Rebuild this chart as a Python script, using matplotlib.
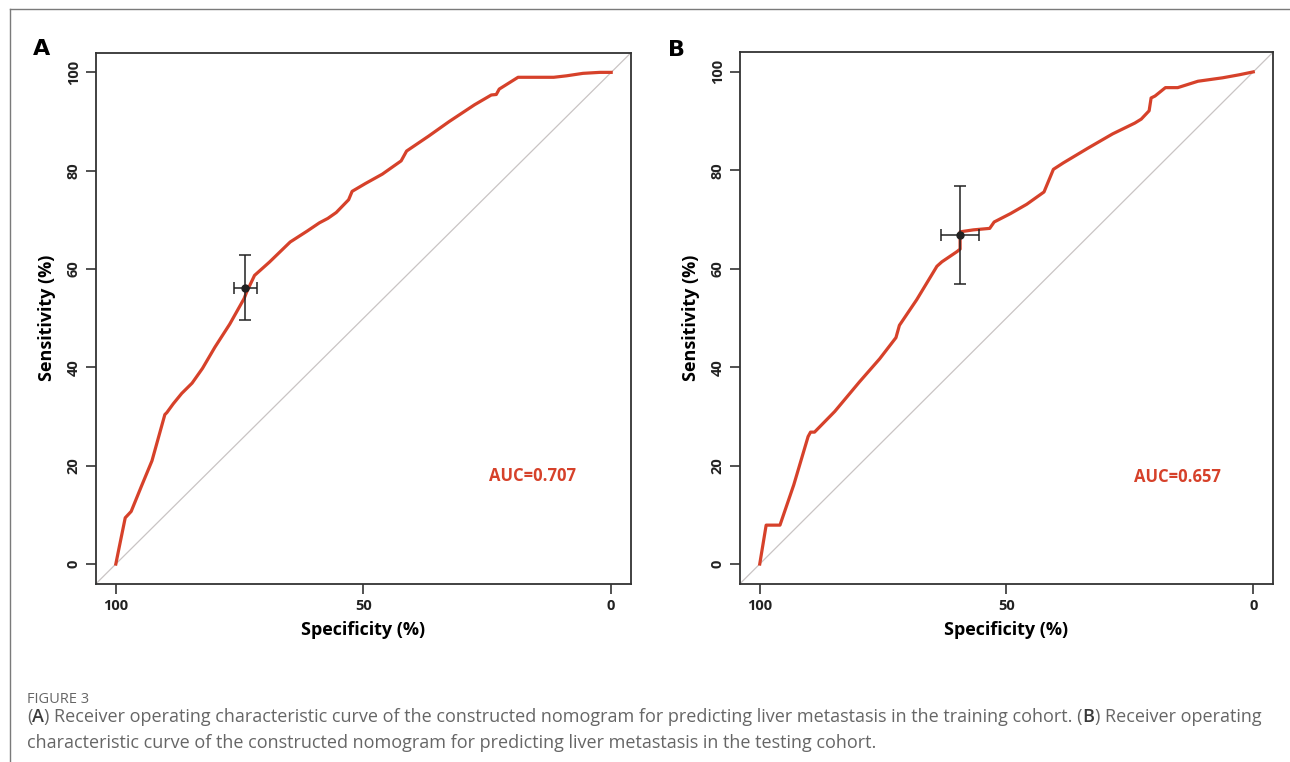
import numpy as np
import matplotlib.pyplot as plt
from matplotlib.lines import Line2D

plt.rcParams['font.family'] = ['Open Sans', 'DejaVu Sans']

# ROC curve A (training cohort): specificity (%), sensitivity (%)
spec_a = [100, 99.4, 98.1, 96.9, 94.8, 92.7, 90.1, 89.7, 88.4, 86.7, 84.6, 82.5, 80.0,
          77.0, 74.1, 73.6, 72.0, 69.0, 64.8, 61.4, 58.9, 57.2, 55.5, 53.0, 52.3, 49.6,
          46.2, 42.4, 41.3, 36.9, 32.7, 27.6, 24.2, 23.2, 22.6, 18.8, 11.6, 9.0, 5.7, 2.3, 0]
sens_a = [0, 3.0, 9.4, 10.7, 15.9, 21.0, 30.4, 30.8, 32.6, 34.7, 36.8, 39.8, 44.1,
          48.8, 54.0, 55.3, 58.7, 61.4, 65.5, 67.7, 69.4, 70.3, 71.5, 74.1, 75.8, 77.4,
          79.3, 82.0, 84.0, 87.0, 90.0, 93.4, 95.4, 95.5, 96.6, 99.0, 99.0, 99.3, 99.8, 100, 100]

# ROC curve B (testing cohort)
spec_b = [100, 98.7, 95.9, 93.1, 90.2, 89.7, 88.9, 84.8, 79.8, 75.7, 72.4, 71.7, 68.2,
          64.1, 63.1, 60.0, 59.4, 59.4, 56.7, 53.4, 52.5, 49.2, 45.9, 42.4, 40.5, 38.5,
          33.5, 28.5, 24.0, 22.7, 21.1, 20.7, 19.9, 17.8, 15.3, 11.2, 6.2, 2.9, 0]
sens_b = [0, 7.9, 7.9, 16.1, 25.9, 26.8, 26.8, 31.0, 37.0, 41.7, 46.0, 48.5, 53.7,
          60.5, 61.4, 63.5, 64.0, 67.5, 67.9, 68.2, 69.5, 71.2, 73.1, 75.6, 80.2, 81.5,
          84.5, 87.4, 89.6, 90.4, 92.1, 94.7, 95.1, 96.8, 96.8, 98.1, 98.8, 99.4, 100]

# best threshold point with CI: (spec, spec_lo, spec_hi, sens, sens_lo, sens_hi)
ci_a = (73.9, 71.6, 76.3, 56.2, 49.7, 62.9)
ci_b = (59.4, 55.6, 63.3, 66.9, 56.9, 76.8)

auc_labels = ["AUC=0.707", "AUC=0.657"]
auc_pos = [(15.8, 17.9), (15.3, 17.7)]
panel_labels = ["A", "B"]

RED = '#D6412A'

fig = plt.figure(figsize=(12.9, 7.62), dpi=100)

axes_rects = [(96 / 1290, 178.3 / 762, 535 / 1290, 531 / 762),
              (740 / 1290, 178.3 / 762, 533 / 1290, 531.5 / 762)]
curves = [(spec_a, sens_a), (spec_b, sens_b)]
cis = [ci_a, ci_b]
label_pos = [(42, 49), (676, 50)]

for i in range(2):
    ax = fig.add_axes(axes_rects[i])
    sx, sy = curves[i]
    ax.axline((100, 0), (0, 100), color='#C9C4C4', lw=0.9, zorder=1)
    ax.plot(sx, sy, color=RED, lw=2.3, zorder=2, solid_joinstyle='round')
    s, slo, shi, se, selo, sehi = cis[i]
    ax.errorbar([s], [se], xerr=[[shi - s], [s - slo]], yerr=[[se - selo], [sehi - se]],
                fmt='o', color='#222222', ms=5, capsize=4, elinewidth=1.1,
                capthick=1.1, zorder=3)
    ax.text(auc_pos[i][0], auc_pos[i][1], auc_labels[i], color=RED, fontsize=12,
            fontweight='bold', ha='center', va='center')
    ax.set_xlim(104, -4)
    ax.set_ylim(-4, 104)
    ax.set_xticks([100, 50, 0])
    ax.set_xticklabels(['100', '50', '0'])
    ax.set_yticks([0, 20, 40, 60, 80, 100])
    ax.set_yticklabels(['0', '20', '40', '60', '80', '100'], rotation=90, va='center')
    ax.tick_params(direction='out', length=7, width=1.2, color='#333333',
                   labelsize=10.5, pad=4)
    for lab in ax.get_xticklabels() + ax.get_yticklabels():
        lab.set_fontweight('bold')
        lab.set_color('#222222')
    for sp in ax.spines.values():
        sp.set_linewidth(1.3)
        sp.set_color('#333333')
    ax.set_xlabel('Specificity (%)', fontsize=13, fontweight='bold', labelpad=6)
    ax.set_ylabel('Sensitivity (%)', fontsize=13, fontweight='bold', labelpad=8)
    fig.text(label_pos[i][0] / 1290, 1 - label_pos[i][1] / 762, panel_labels[i],
             fontsize=16, fontweight='bold', family='DejaVu Sans',
             ha='center', va='center')

# outer frame lines
fig.add_artist(Line2D([9.7 / 1290, 1], [1 - 9.4 / 762, 1 - 9.4 / 762],
                      transform=fig.transFigure, color='#7a7a7a', lw=1))
fig.add_artist(Line2D([9.7 / 1290, 9.7 / 1290], [0, 1 - 9.4 / 762],
                      transform=fig.transFigure, color='#7a7a7a', lw=1))

# caption
fig.text(27 / 1290, 1 - 703 / 762, 'FIGURE 3', fontsize=10.5, color='#666666',
         va='baseline')

renderer = fig.canvas.get_renderer()


def rich_line(pieces, x0, y0):
    x = x0
    for txt, bold in pieces:
        t = fig.text(x / 1290, 1 - y0 / 762, txt, fontsize=13, va='baseline',
                     color='#3a3a3a' if bold else '#666666',
                     fontweight='semibold' if bold else 'normal')
        bb = t.get_window_extent(renderer)
        x += bb.width


rich_line([('(', False), ('A', True), (') Receiver operating characteristic curve of the constructed '
                                        'nomogram for predicting liver metastasis in the training cohort. (', False),
           ('B', True), (') Receiver operating', False)], 27, 722)
rich_line([('characteristic curve of the constructed nomogram for predicting liver metastasis '
            'in the testing cohort.', False)], 27, 748)

fig.savefig('out.png', dpi=100)
